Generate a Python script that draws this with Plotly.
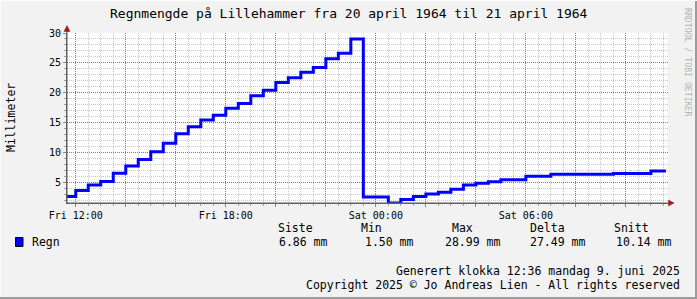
import plotly.graph_objects as go
import pandas as pd

# ---------------- data ----------------
times = [
    "1964-04-20 11:30", "1964-04-20 12:00", "1964-04-20 12:30", "1964-04-20 13:00",
    "1964-04-20 13:30", "1964-04-20 14:00", "1964-04-20 14:30", "1964-04-20 15:00",
    "1964-04-20 15:30", "1964-04-20 16:00", "1964-04-20 16:30", "1964-04-20 17:00",
    "1964-04-20 17:30", "1964-04-20 18:00", "1964-04-20 18:30", "1964-04-20 19:00",
    "1964-04-20 19:30", "1964-04-20 20:00", "1964-04-20 20:30", "1964-04-20 21:00",
    "1964-04-20 21:30", "1964-04-20 22:00", "1964-04-20 22:30", "1964-04-20 23:00",
    "1964-04-20 23:30", "1964-04-21 00:00", "1964-04-21 00:30", "1964-04-21 01:00",
    "1964-04-21 01:30", "1964-04-21 02:00", "1964-04-21 02:30", "1964-04-21 03:00",
    "1964-04-21 03:30", "1964-04-21 04:00", "1964-04-21 04:30", "1964-04-21 05:00",
    "1964-04-21 05:30", "1964-04-21 06:00", "1964-04-21 06:30", "1964-04-21 07:00",
    "1964-04-21 07:30", "1964-04-21 08:00", "1964-04-21 08:30", "1964-04-21 09:00",
    "1964-04-21 09:30", "1964-04-21 10:00", "1964-04-21 10:30", "1964-04-21 11:00",
    "1964-04-21 11:36",
]
regn = [
    2.6, 3.6, 4.5, 5.1, 6.5, 7.7, 8.8, 10.1,
    11.5, 13.1, 14.3, 15.4, 16.2, 17.4, 18.2, 19.5,
    20.4, 21.7, 22.5, 23.4, 24.2, 25.7, 26.6, 28.99,
    2.5, 2.5, 1.5, 2.1, 2.6, 3.0, 3.3, 3.8,
    4.5, 4.8, 5.05, 5.4, 5.4, 6.0, 6.0, 6.3,
    6.3, 6.3, 6.3, 6.3, 6.45, 6.45, 6.45, 6.86,
    6.86,
]

x_tickvals = [
    "1964-04-20 12:00", "1964-04-20 14:00", "1964-04-20 16:00", "1964-04-20 18:00",
    "1964-04-20 20:00", "1964-04-20 22:00", "1964-04-21 00:00", "1964-04-21 02:00",
    "1964-04-21 04:00", "1964-04-21 06:00", "1964-04-21 08:00", "1964-04-21 10:00",
]
x_ticktext = ["Fri 12:00", "", "", "Fri 18:00", "", "", "Sat 00:00", "", "", "Sat 06:00", "", ""]
x_range = ["1964-04-20 11:39", "1964-04-21 11:41"]
y_range = [1.5, 30]

title = "Regnmengde på Lillehammer fra 20 april 1964 til 21 april 1964"
y_title = "Millimeter"
legend_name = "Regn"
stat_headers = ["Siste", "Min", "Max", "Delta", "Snitt"]
stat_values = ["6.86 mm", "1.50 mm", "28.99 mm", "27.49 mm", "10.14 mm"]
footer1 = "Generert klokka 12:36 mandag 9. juni 2025"
footer2 = "Copyright 2025 © Jo Andreas Lien - All rights reserved"
watermark = "RRDTOOL / TOBI OETIKER"

# ---------------- layout geometry ----------------
W, H = 697, 299
L, R, T, B = 67, 668, 33, 203   # plot area in pixels
FONT = "DejaVu Sans Mono"

minor_x = [d.strftime("%Y-%m-%d %H:%M") for d in
           pd.date_range("1964-04-20 11:30", "1964-04-21 11:30", freq="30min")]
minor_x = [m for m in minor_x if m not in x_tickvals]
minor_y = [v for v in range(2, 31) if v % 5 != 0]


def px(x):
    return (x - L) / (R - L)


def py(y):
    return (B - y) / (B - T)


fig = go.Figure()
fig.add_trace(go.Scatter(
    x=times, y=regn, mode="lines", line=dict(color="#0000ff", width=3, shape="hv"),
    showlegend=False, hoverinfo="skip",
))

red_grid = "#d65a5a"
gray_grid = "#c8c8c8"
DASH = "1px,1px"

fig.update_layout(
    width=W, height=H, autosize=False,
    margin=dict(l=L, r=W - R, t=T, b=H - B, pad=0),
    paper_bgcolor="#f2f2f2", plot_bgcolor="#ffffff",
    font=dict(family=FONT, color="#000000", size=10),
    showlegend=False,
    xaxis=dict(
        type="date", range=x_range, tickmode="array", tickvals=x_tickvals, ticktext=x_ticktext,
        showgrid=True, gridcolor=red_grid, griddash=DASH, gridwidth=1,
        ticks="outside", ticklen=3, tickcolor="#c07070", tickfont=dict(size=10, family=FONT),
        showline=True, linecolor="#606060", linewidth=1, zeroline=False,
        minor=dict(tickmode="array", tickvals=minor_x, showgrid=True,
                   gridcolor=gray_grid, griddash=DASH, gridwidth=1,
                   ticks="outside", ticklen=2, tickcolor="#a0a0a0"),
        fixedrange=True,
    ),
    yaxis=dict(
        range=y_range, tick0=0, dtick=5, tickmode="linear",
        showgrid=True, gridcolor=red_grid, griddash=DASH, gridwidth=1,
        ticks="outside", ticklen=3, tickcolor="#c07070", tickfont=dict(size=10, family=FONT),
        showline=True, linecolor="#606060", linewidth=1, zeroline=False,
        minor=dict(tickmode="array", tickvals=minor_y, showgrid=True, gridcolor=gray_grid,
                   griddash=DASH, gridwidth=1, ticks="outside", ticklen=2, tickcolor="#a0a0a0"),
        fixedrange=True,
    ),
)

shapes = []
# axis extension + arrows
shapes.append(dict(type="line", xref="paper", yref="paper", x0=px(67), x1=px(67),
                   y0=py(203), y1=py(29), line=dict(color="#606060", width=1)))
shapes.append(dict(type="line", xref="paper", yref="paper", x0=px(67), x1=px(670),
                   y0=py(203), y1=py(203), line=dict(color="#606060", width=1)))
shapes.append(dict(type="path", xref="paper", yref="paper",
                   path=f"M {px(64)} {py(31.5)} L {px(70)} {py(31.5)} L {px(67)} {py(25.5)} Z",
                   fillcolor="#9b1c1c", line=dict(color="#9b1c1c", width=0.5)))
shapes.append(dict(type="path", xref="paper", yref="paper",
                   path=f"M {px(668.5)} {py(200)} L {px(668.5)} {py(206)} L {px(674)} {py(203)} Z",
                   fillcolor="#9b1c1c", line=dict(color="#9b1c1c", width=0.5)))
# legend square
shapes.append(dict(type="rect", xref="paper", yref="paper", x0=px(15.5), x1=px(23),
                   y0=py(246.5), y1=py(237.5), fillcolor="#0000ff", line=dict(color="#000000", width=1)))
# 3D frame of the image
shapes.append(dict(type="rect", xref="paper", yref="paper", x0=px(0), x1=px(697),
                   y0=py(297), y1=py(299), fillcolor="#9c9c9c", line=dict(width=0), layer="above"))
shapes.append(dict(type="rect", xref="paper", yref="paper", x0=px(695), x1=px(697),
                   y0=py(0), y1=py(299), fillcolor="#9c9c9c", line=dict(width=0), layer="above"))
shapes.append(dict(type="rect", xref="paper", yref="paper", x0=px(0), x1=px(697),
                   y0=py(0), y1=py(1), fillcolor="#fcfcfc", line=dict(width=0), layer="above"))
shapes.append(dict(type="rect", xref="paper", yref="paper", x0=px(0), x1=px(1),
                   y0=py(0), y1=py(297), fillcolor="#fcfcfc", line=dict(width=0), layer="above"))
fig.update_layout(shapes=shapes)

ann = []


def text(t, x, y, size, xanchor="left", color="#000000", angle=0):
    ann.append(dict(text=t, x=px(x), y=py(y), xref="paper", yref="paper", showarrow=False,
                    xanchor=xanchor, yanchor="middle", textangle=angle,
                    font=dict(family=FONT, size=size, color=color)))


text(title, 348.5, 14, 13, xanchor="center")
text(y_title, 11, 118, 11.5, xanchor="center", angle=-90)
text(watermark, 688, 62, 8.2, xanchor="center", color="#b4b4b4", angle=90)
text(legend_name, 30, 242, 11.5)
header_x = [275.5, 359, 450, 527.5, 612]
value_x = [277, 363, 443, 528, 614]
for h, hx in zip(stat_headers, header_x):
    text(h, hx, 228, 11.5)
for v, vx in zip(stat_values, value_x):
    text(v, vx, 242, 11.5)
text(footer1, 681.5, 271, 11.5, xanchor="right")
text(footer2, 681.5, 285, 11.5, xanchor="right")
fig.update_layout(annotations=ann)

fig.write_html("out.html", config=dict(displayModeBar=False))
